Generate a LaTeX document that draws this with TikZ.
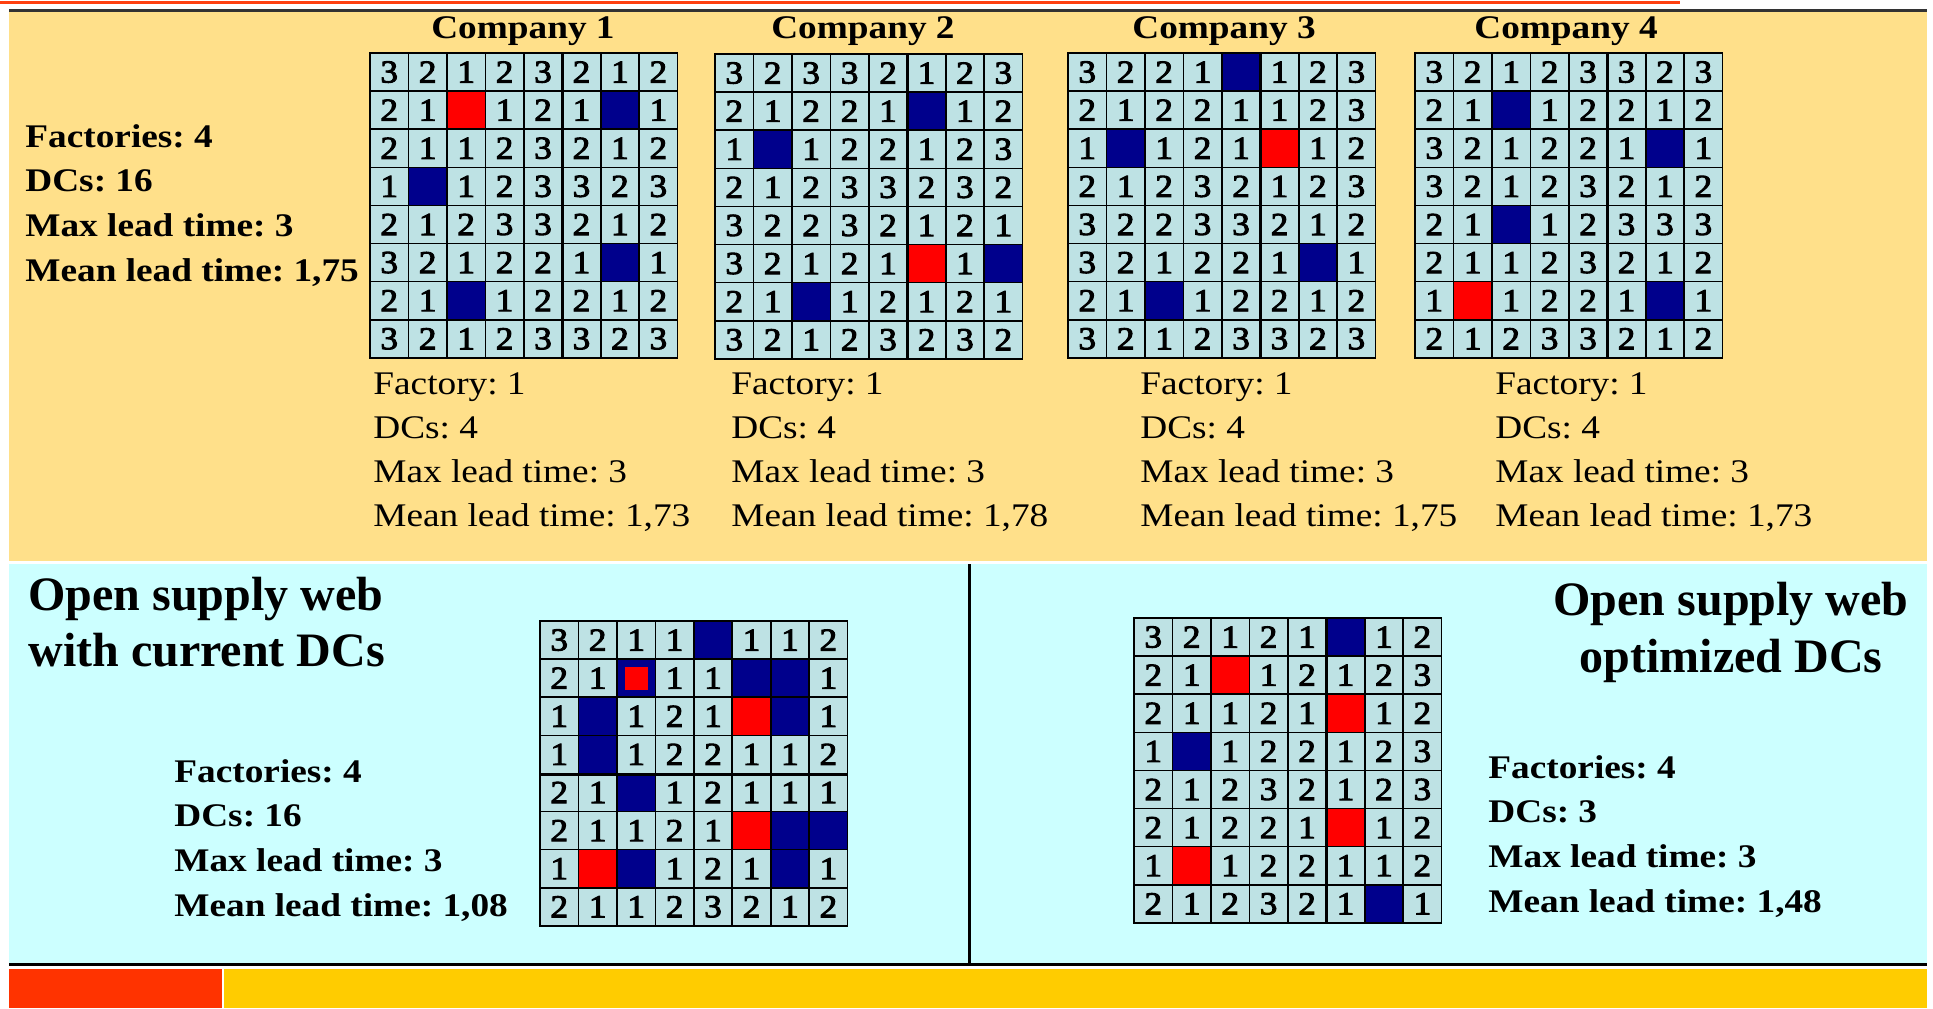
\documentclass[tikz,border=0pt]{standalone}
\usepackage{fontspec}
\setmainfont{Liberation Serif}[FakeStretch=1.13]
\newfontfamily\titlefam{Liberation Serif}
\newfontfamily\gridfam{Liberation Serif}[FakeStretch=1.1, FakeBold=3]
\usepackage{tikz}
\usetikzlibrary{positioning}
\definecolor{webyellow}{RGB}{255,224,138}
\definecolor{webcyan}{RGB}{204,255,255}
\definecolor{cellgray}{RGB}{190,226,228}
\definecolor{dcblue}{RGB}{0,0,140}
\definecolor{dcred}{RGB}{255,0,0}
\definecolor{footred}{RGB}{255,51,0}
\definecolor{footyellow}{RGB}{255,204,0}
\definecolor{topred}{RGB}{255,64,16}
\frenchspacing
\newcommand{\dcgrid}[4]{%
  \foreach \row [count=\i] in {#4} {
    \foreach \v [count=\j] in \row
      \node[cell, dc/.expanded=\v, name=#1-\i-\j, at={(#2+38.45*\j-19.225, #3+38.1*\i-19.05)}];
  }}
\newcommand{\cstats}[3]{%
  \foreach \txt [count=\k] in {Factory: 1, DCs: 4, Max lead time: 3, {Mean lead time: #3}}
    \node[stat] (#1-\k) at (#2, 394+44.3*\k-44.3) {\txt};}
\tikzset{
  cell/.style={draw=black, line width=0.8pt, fill=cellgray, inner sep=0pt,
    minimum width=19.22pt, minimum height=19.05pt, font=\gridfam\fontsize{16}{16}\selectfont},
  dc/.style={dc#1},
  dc1/.style={node contents=1},
  dc2/.style={node contents=2},
  dc3/.style={node contents=3},
  dcB/.style={fill=dcblue, node contents={}},
  dcR/.style={fill=dcred, node contents={}},
  dcX/.style={fill=dcblue, node contents={\textcolor{dcred}{\rule{11.5pt}{11.5pt}}}},
  seam/.style={line width=1.4pt},
  hdr/.style={font=\bfseries\fontsize{16.5}{20}\selectfont, anchor=base, inner sep=0pt},
  stat/.style={font=\fontsize{16.5}{20}\selectfont, anchor=base west, inner sep=0pt},
  statb/.style={stat, font=\bfseries\fontsize{16.5}{20}\selectfont},
  ttl/.style={font=\titlefam\bfseries\fontsize{24}{28}\selectfont, anchor=base, inner sep=0pt},
  rule/.style={line width=1.5pt},
}
\begin{document}
\begin{tikzpicture}[x=0.5pt,y=-0.5pt]
\useasboundingbox (0,0) rectangle (1933,1008);
\fill[white] (0,0) rectangle (1933,1008);
\draw[topred, rule] (0,2.5) -- (1680,2.5);
\fill[webyellow] (9,11) rectangle (1927,561);
\draw[rule, black!80] (9,10) -- (1927,10);
\fill[webcyan] (9,564) rectangle (1927,963);
\draw[rule] (9,964.5) -- (1927,964.5);
\draw[rule] (969,564) -- (969,963);
\fill[footred] (9,969) rectangle (222,1008);
\fill[footyellow] (224,969) rectangle (1927,1008);

\foreach \txt [count=\k] in {Factories: 4, DCs: 16, Max lead time: 3, {Mean lead time: 1,75}}
  \node[statb] (all-\k) at (25, 147+44.7*\k-44.7) {\txt};

\node[hdr] (h1) at (523,38) {Company 1};
\node[hdr] (h2) at (863,38) {Company 2};
\node[hdr] (h3) at (1224,38) {Company 3};
\node[hdr] (h4) at (1566,38) {Company 4};

\dcgrid{c1}{370}{53}{{3,2,1,2,3,2,1,2},{2,1,R,1,2,1,B,1},{2,1,1,2,3,2,1,2},{1,B,1,2,3,3,2,3},
  {2,1,2,3,3,2,1,2},{3,2,1,2,2,1,B,1},{2,1,B,1,2,2,1,2},{3,2,1,2,3,3,2,3}}
\dcgrid{c2}{715}{54}{{3,2,3,3,2,1,2,3},{2,1,2,2,1,B,1,2},{1,B,1,2,2,1,2,3},{2,1,2,3,3,2,3,2},
  {3,2,2,3,2,1,2,1},{3,2,1,2,1,R,1,B},{2,1,B,1,2,1,2,1},{3,2,1,2,3,2,3,2}}
\dcgrid{c3}{1068}{53}{{3,2,2,1,B,1,2,3},{2,1,2,2,1,1,2,3},{1,B,1,2,1,R,1,2},{2,1,2,3,2,1,2,3},
  {3,2,2,3,3,2,1,2},{3,2,1,2,2,1,B,1},{2,1,B,1,2,2,1,2},{3,2,1,2,3,3,2,3}}
\dcgrid{c4}{1415}{53}{{3,2,1,2,3,3,2,3},{2,1,B,1,2,2,1,2},{3,2,1,2,2,1,B,1},{3,2,1,2,3,2,1,2},
  {2,1,B,1,2,3,3,3},{2,1,1,2,3,2,1,2},{1,R,1,2,2,1,B,1},{2,1,2,3,3,2,1,2}}
\foreach \g in {c1,c2,c3,c4}
  \draw[seam] (\g-1-5.north east) -- (\g-8-5.south east);

\cstats{s1}{373}{1,73}
\cstats{s2}{731}{1,78}
\cstats{s3}{1140}{1,75}
\cstats{s4}{1495}{1,73}

\node[ttl, anchor=base west] (wl1) at (28,610) {Open supply web};
\node[ttl, anchor=base west] (wl2) at (28,666) {with current DCs};
\foreach \txt [count=\k] in {Factories: 4, DCs: 16, Max lead time: 3, {Mean lead time: 1,08}}
  \node[statb] (cur-\k) at (174, 782+44.7*\k-44.7) {\txt};
\dcgrid{bl}{540}{621}{{3,2,1,1,B,1,1,2},{2,1,X,1,1,B,B,1},{1,B,1,2,1,R,B,1},{1,B,1,2,2,1,1,2},
  {2,1,B,1,2,1,1,1},{2,1,1,2,1,R,B,B},{1,R,B,1,2,1,B,1},{2,1,1,2,3,2,1,2}}
\draw[seam] (bl-4-1.south west) -- (bl-4-8.south east);

\node[ttl] (wr1) at (1731,615) {Open supply web};
\node[ttl] (wr2) at (1731,672) {optimized DCs};
\dcgrid{br}{1134}{618}{{3,2,1,2,1,B,1,2},{2,1,R,1,2,1,2,3},{2,1,1,2,1,R,1,2},{1,B,1,2,2,1,2,3},
  {2,1,2,3,2,1,2,3},{2,1,2,2,1,R,1,2},{1,R,1,2,2,1,1,2},{2,1,2,3,2,1,B,1}}
\draw[seam] (br-1-5.north east) -- (br-8-5.south east);
\foreach \txt [count=\k] in {Factories: 4, DCs: 3, Max lead time: 3, {Mean lead time: 1,48}}
  \node[statb] (opt-\k) at (1488, 778+44.7*\k-44.7) {\txt};
\end{tikzpicture}
\end{document}
